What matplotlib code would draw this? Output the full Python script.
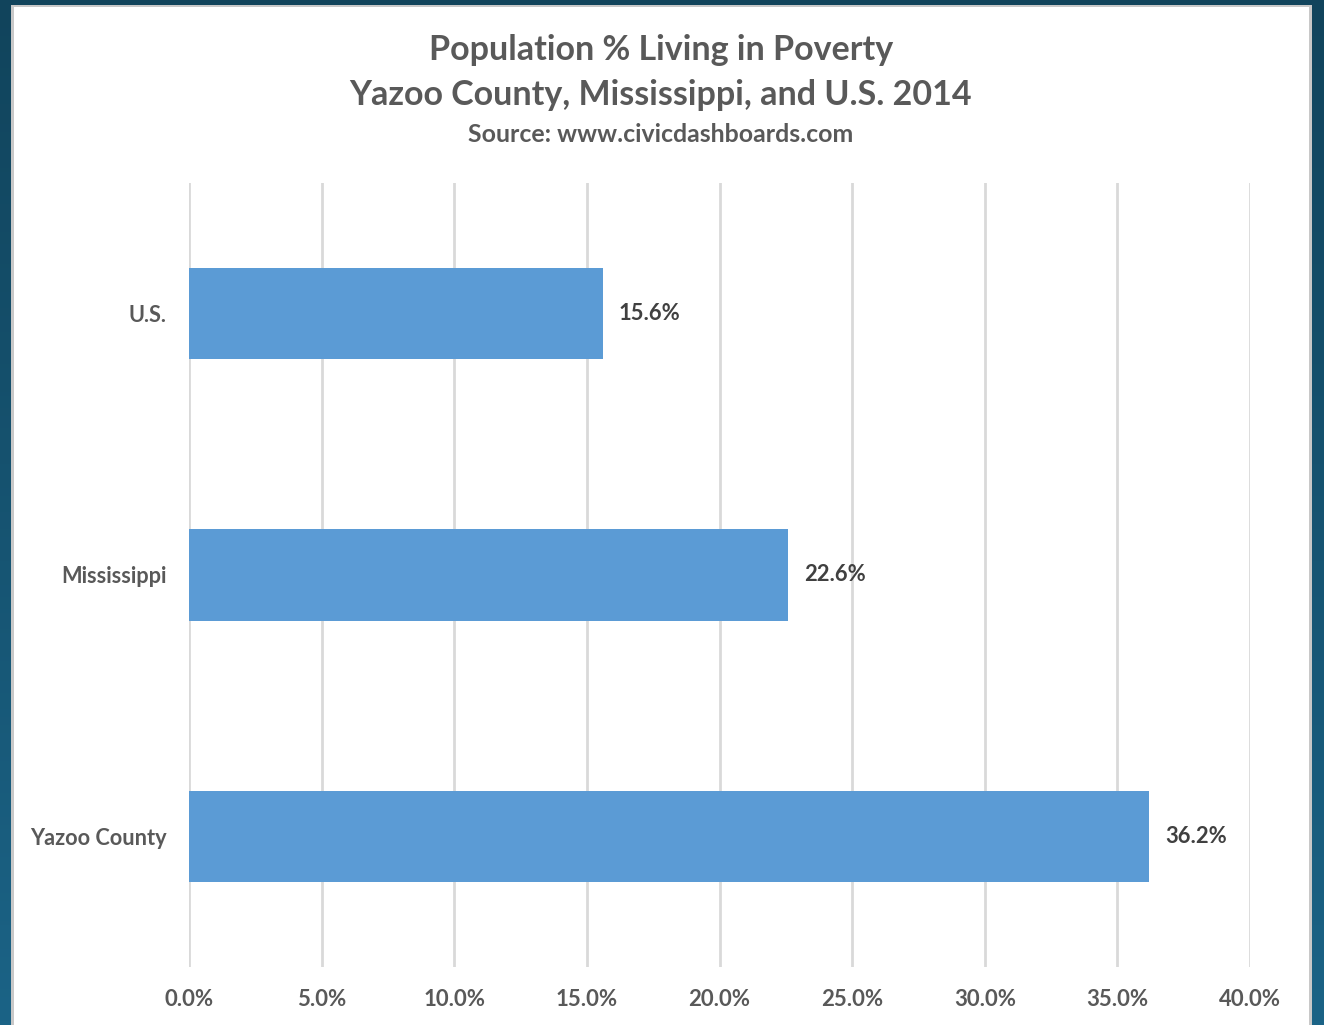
import matplotlib
matplotlib.use('Agg')
import matplotlib.pyplot as plt
import numpy as np
from matplotlib.patches import Rectangle
from matplotlib.colors import LinearSegmentedColormap

categories = ['Yazoo County', 'Mississippi', 'U.S.']
values = [36.2, 22.6, 15.6]
xticks = [0, 5, 10, 15, 20, 25, 30, 35, 40]

plt.rcParams['font.family'] = ['Lato', 'DejaVu Sans']
grey = '#595959'

fig = plt.figure(figsize=(13.24, 10.25), dpi=100)

# dark teal background with a soft gradient
bg = fig.add_axes([0, 0, 1, 1], zorder=-10)
bg.axis('off')
cmap = LinearSegmentedColormap.from_list('bg', ['#11445c', '#1b6386'])
grad = np.linspace(0, 1, 256).reshape(-1, 1)
bg.imshow(grad, aspect='auto', cmap=cmap, extent=[0, 1, 0, 1], origin='upper')
bg.set_xlim(0, 1)
bg.set_ylim(0, 1)
# white panel with a faint grey edge
bg.add_patch(Rectangle((0.0085, -0.01), 0.9825, 1.0055, facecolor='#c8c8c8', edgecolor='none'))
bg.add_patch(Rectangle((0.0105, -0.01), 0.978, 1.003, facecolor='white', edgecolor='none'))

ax = fig.add_axes([189/1324, 1 - 967/1025, (1250-189)/1324, (967-183)/1025])
ypos = np.arange(len(categories))
ax.barh(ypos, values, height=0.35, color='#5b9bd5', zorder=3)
for y, v in zip(ypos, values):
    ax.text(v + 0.6, y, f'{v:.1f}%', va='center', ha='left', fontsize=15.8,
            fontweight='bold', color='#404040')

ax.set_xlim(0, 40)
ax.set_ylim(-0.5, 2.5)
ax.set_xticks(xticks)
ax.set_xticklabels([f'{t:.1f}%' for t in xticks], fontsize=16, fontweight='bold', color=grey)
ax.set_yticks(ypos)
ax.set_yticklabels(categories, fontsize=15.7, fontweight='bold', color=grey)
ax.tick_params(axis='both', length=0)
ax.tick_params(axis='x', pad=16)
ax.tick_params(axis='y', pad=16)
ax.grid(axis='x', color='#d9d9d9', linewidth=2, zorder=0)
for s in ax.spines.values():
    s.set_visible(False)
ax.set_facecolor('none')

fig.text(661/1324, 1 - 50/1025, 'Population % Living in Poverty', ha='center', va='center',
         fontsize=24.5, fontweight='bold', color=grey)
fig.text(661/1324, 1 - 95/1025, 'Yazoo County, Mississippi, and U.S. 2014', ha='center', va='center',
         fontsize=24.5, fontweight='bold', color=grey)
fig.text(661/1324, 1 - 134/1025, 'Source: www.civicdashboards.com', ha='center', va='center',
         fontsize=17.9, fontweight='bold', color=grey)

fig.savefig('out.png', dpi=100)
